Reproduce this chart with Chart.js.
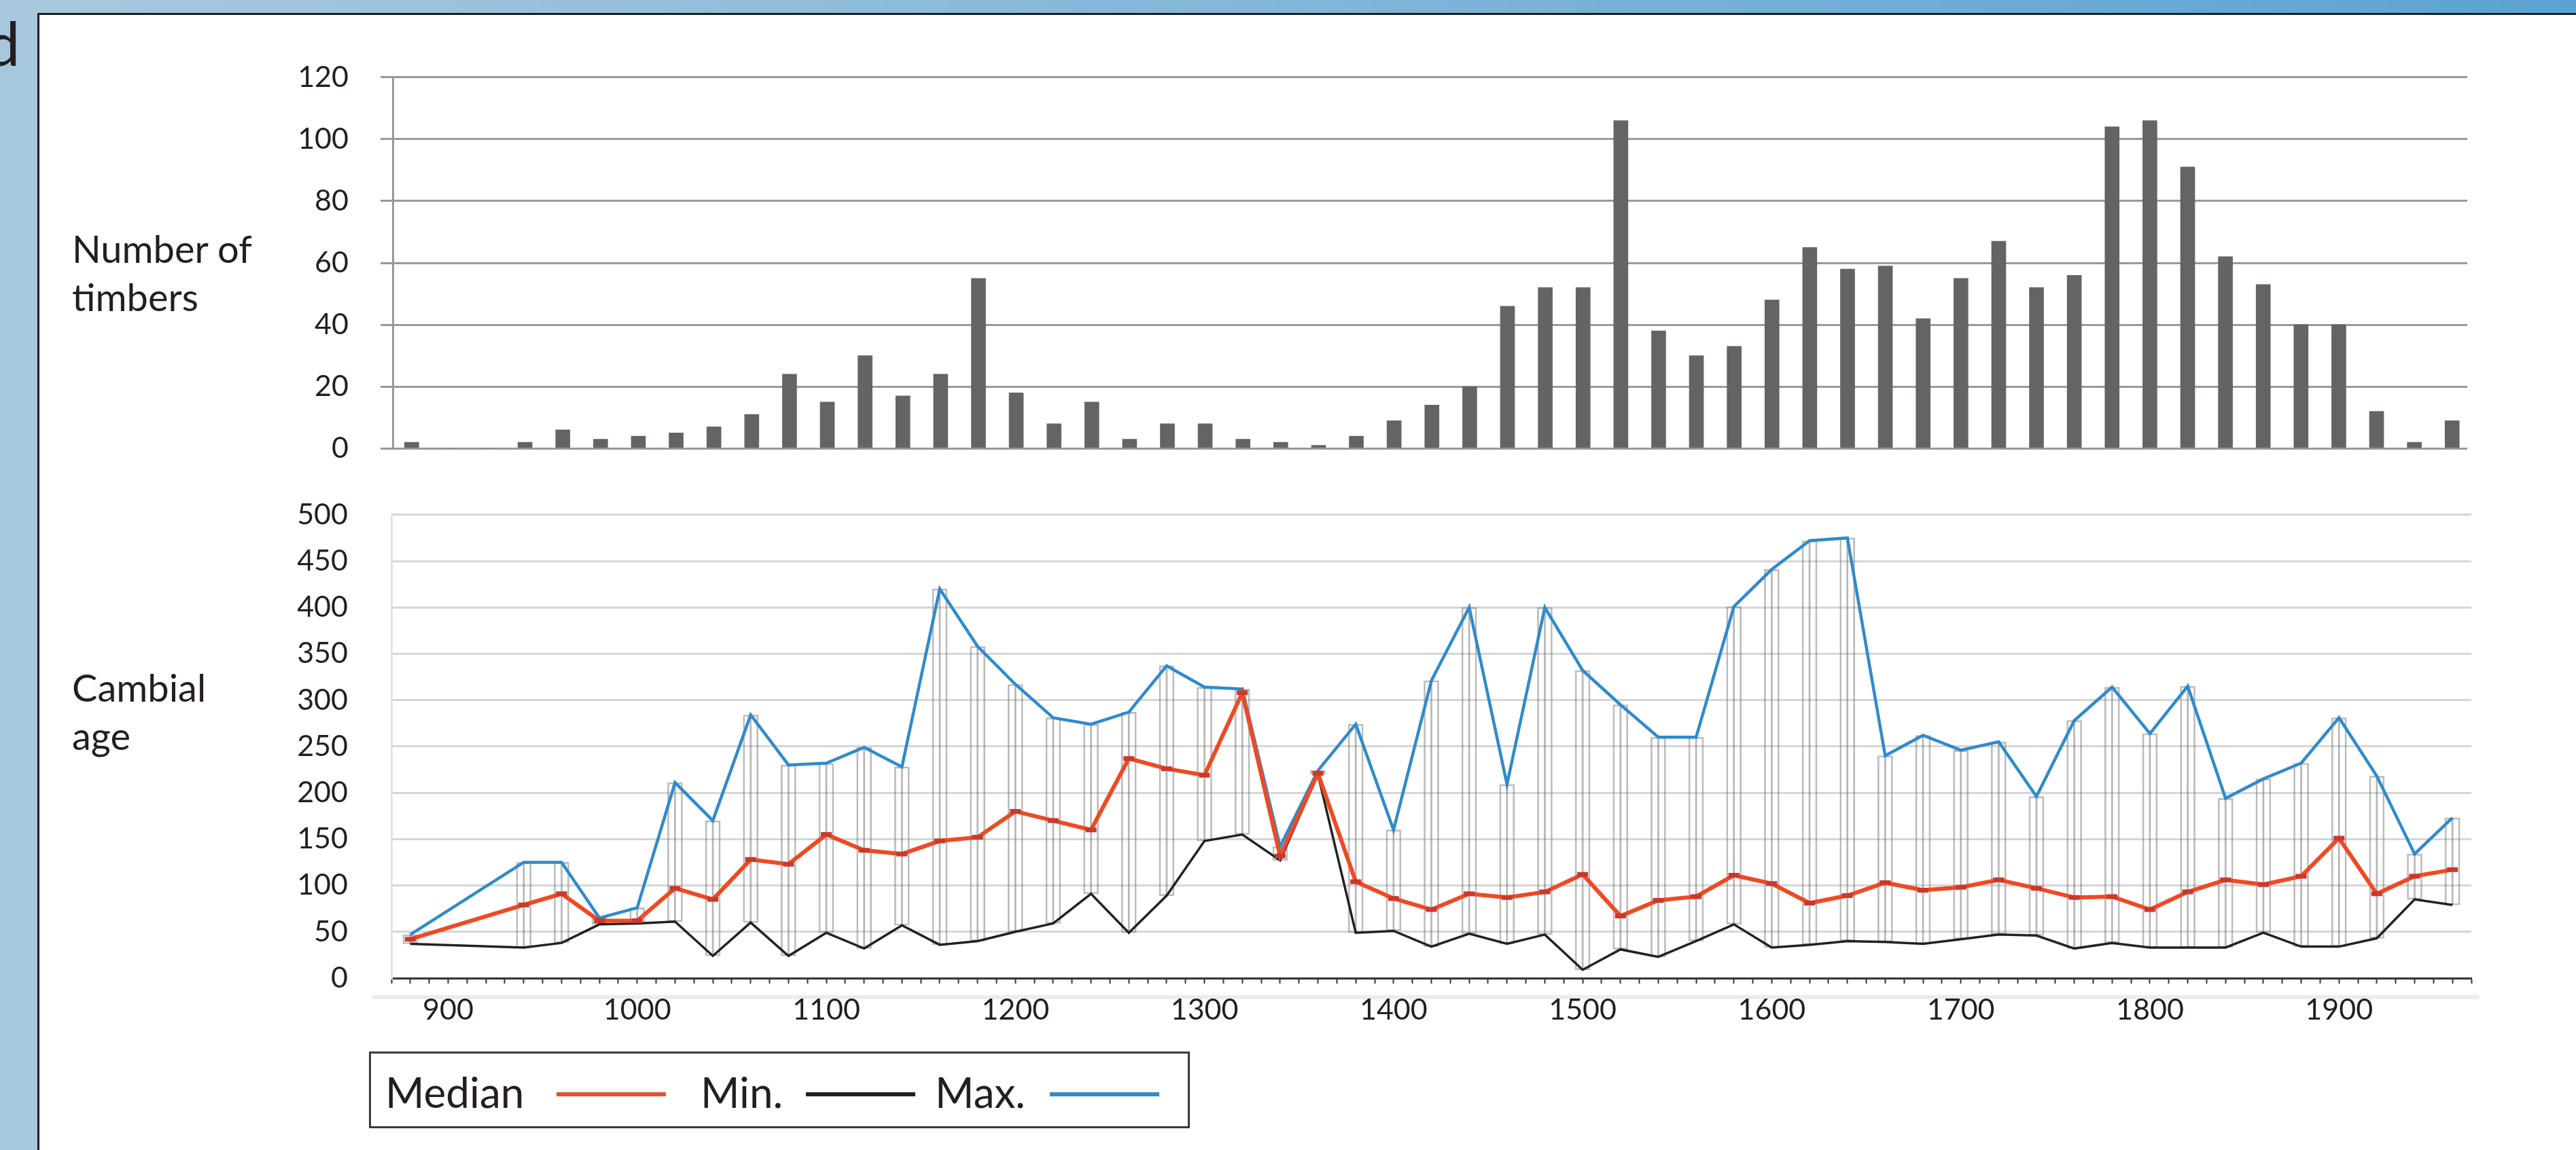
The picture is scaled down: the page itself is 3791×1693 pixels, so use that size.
<!DOCTYPE html>
<html>
<head>
<meta charset="utf-8">
<script src="https://cdn.jsdelivr.net/npm/chart.js@4.4.1/dist/chart.umd.min.js"></script>
<style>
  html, body { margin: 0; padding: 0; }
  body {
    width: 3791px; height: 1693px; position: relative; overflow: hidden;
    background: #a7c7dd; font-family: Lato, sans-serif; color: #231f20;
  }
  .header { position: absolute; left: 0; top: 0; width: 3791px; height: 20px;
    background: linear-gradient(to right, #a9c8de, #5ba3d3); }
  .panel { position: absolute; left: 55px; top: 19px; right: 0; bottom: 0; background: #fff;
    border-left: 3px solid #1d1d1d; border-top: 3px solid #1d1d1d; }
  .cut { position: absolute; left: -21px; top: 17px; font-size: 90px; line-height: 90px; }
  .side { position: absolute; left: 106px; font-size: 56px; line-height: 71px; }
  .band { position: absolute; left: 548px; top: 1465px; width: 3100px; height: 6px; background: #ececec; }
  canvas { position: absolute; left: 0; }
  #timbers { top: 41px; }
  #ages { top: 668px; }
  .legend-box { position: absolute; left: 543px; top: 1548px; width: 1208px; height: 113px;
    box-sizing: border-box; border: 3px solid #3a3a3a; }
  .lg { position: absolute; top: 1576px; font-size: 62px; line-height: 62px; }
  .ln { position: absolute; top: 1608px; height: 6px; width: 161px; }
</style>
</head>
<body>
<div class="header"></div>
<div class="cut">d</div>
<div class="panel"></div>
<div class="side" style="top:330px">Number of<br>timbers</div>
<div class="side" style="top:976px">Cambial<br>age</div>
<div class="band"></div>
<canvas id="timbers" width="3700" height="692"></canvas>
<canvas id="ages" width="3700" height="872"></canvas>
<div class="legend-box"></div>
<div class="lg" style="left:567px">Median</div>
<div class="ln" style="left:819px;background:#e0532c"></div>
<div class="lg" style="left:1031px">Min.</div>
<div class="ln" style="left:1186px;background:#222"></div>
<div class="lg" style="left:1376px">Max.</div>
<div class="ln" style="left:1545px;background:#2e8bcc"></div>
<script>
// number of timbers per 20-year class
const timberYears = [880, 900, 920, 940, 960, 980, 1000, 1020, 1040, 1060, 1080, 1100, 1120, 1140,
  1160, 1180, 1200, 1220, 1240, 1260, 1280, 1300, 1320, 1340, 1360, 1380, 1400, 1420, 1440, 1460,
  1480, 1500, 1520, 1540, 1560, 1580, 1600, 1620, 1640, 1660, 1680, 1700, 1720, 1740, 1760, 1780,
  1800, 1820, 1840, 1860, 1880, 1900, 1920, 1940, 1960];
const timberCounts = [2, 0, 0, 2, 6, 3, 4, 5, 7, 11, 24, 15, 30, 17,
  24, 55, 18, 8, 15, 3, 8, 8, 3, 2, 1, 4, 9, 14, 20, 46,
  52, 52, 106, 38, 30, 33, 48, 65, 58, 59, 42, 55, 67, 52, 56, 104,
  106, 91, 62, 53, 40, 40, 12, 2, 9];

// cambial age (median / min / max)
const ageYears = [880, 940, 960, 980, 1000, 1020, 1040, 1060, 1080, 1100, 1120, 1140, 1160, 1180,
  1200, 1220, 1240, 1260, 1280, 1300, 1320, 1340, 1360, 1380, 1400, 1420, 1440, 1460, 1480, 1500,
  1520, 1540, 1560, 1580, 1600, 1620, 1640, 1660, 1680, 1700, 1720, 1740, 1760, 1780, 1800, 1820,
  1840, 1860, 1880, 1900, 1920, 1940, 1960];
const ageMedian = [42, 79, 91, 62, 62, 97, 85, 128, 123, 155, 138, 134, 148, 152,
  180, 170, 160, 237, 226, 219, 308, 132, 221, 104, 86, 74, 91, 87, 93, 112,
  67, 84, 88, 111, 102, 81, 89, 103, 95, 98, 106, 97, 87, 88, 74, 93,
  106, 101, 110, 151, 91, 110, 117];
const ageMin = [37, 33, 38, 58, 59, 61, 24, 60, 24, 49, 32, 57, 36, 40,
  50, 59, 91, 49, 89, 148, 155, 127, 220, 49, 51, 34, 48, 37, 47, 9,
  31, 23, 40, 58, 33, 36, 40, 39, 37, 42, 47, 46, 32, 38, 33, 33,
  33, 49, 34, 34, 43, 85, 79];
const ageMax = [47, 125, 125, 65, 76, 211, 170, 284, 230, 232, 249, 228, 420, 358,
  317, 281, 274, 287, 337, 314, 312, 142, 224, 274, 160, 321, 400, 209, 400, 332,
  295, 260, 260, 401, 441, 472, 475, 240, 262, 246, 255, 196, 278, 314, 264, 315,
  194, 215, 232, 281, 218, 134, 173];

const xTickLabels = [900, 1000, 1100, 1200, 1300, 1400, 1500, 1600, 1700, 1800, 1900];

Chart.defaults.font.family = 'Lato';
Chart.defaults.color = '#231f20';

const tickFont = { size: 43 };
const noPlugins = { legend: { display: false }, tooltip: { enabled: false } };

new Chart(document.getElementById('timbers'), {
  type: 'bar',
  data: {
    datasets: [{
      data: timberYears.map((x, i) => ({ x, y: timberCounts[i] })),
      backgroundColor: '#636563',
      barThickness: 21
    }]
  },
  options: {
    responsive: false,
    animation: false,
    // y tick padding adds (label/2 + 47) above and below the plot
    layout: { padding: { top: 0, bottom: 0, left: 0, right: 69 } },
    plugins: noPlugins,
    scales: {
      x: { type: 'linear', min: 870, max: 1968, offset: false, display: false, grid: { offset: false } },
      y: {
        min: 0, max: 120,
        ticks: { stepSize: 20, padding: 47, font: tickFont },
        grid: { color: '#999999', lineWidth: 3, tickLength: 18, tickColor: '#999999' },
        border: { color: '#999999', width: 3 },
        afterFit: s => { s.width = 578; }
      }
    }
  }
});

const boxes = ageYears.map((x, i) => ({ x, y: [ageMin[i], ageMax[i]] }));
const pts = arr => ageYears.map((x, i) => ({ x, y: arr[i] }));

new Chart(document.getElementById('ages'), {
  type: 'line',
  data: {
    datasets: [
      { label: 'Median', data: pts(ageMedian), borderColor: '#ee4a24', borderWidth: 6,
        pointStyle: 'line', pointRadius: 8, pointBorderWidth: 7,
        pointBorderColor: '#c9392c', pointBackgroundColor: '#c9392c' },
      { label: 'Max.', data: pts(ageMax), borderColor: '#2f8bcb', borderWidth: 4.5, pointRadius: 0 },
      { label: 'Min.', data: pts(ageMin), borderColor: '#222222', borderWidth: 3.5, pointRadius: 0 },
      { type: 'bar', data: boxes, barThickness: 2, grouped: false,
        backgroundColor: 'rgba(110,110,110,0.5)' },
      { type: 'bar', data: boxes, barThickness: 22, grouped: false, borderSkipped: false,
        backgroundColor: 'rgba(255,255,255,0)', borderColor: 'rgba(120,120,120,0.5)', borderWidth: 2 }
    ]
  },
  options: {
    responsive: false,
    animation: false,
    layout: { padding: { top: 0, bottom: 0, left: 0, right: 63 } },
    plugins: noPlugins,
    scales: {
      x: {
        type: 'linear', min: 870, max: 1970, offset: false,
        ticks: {
          stepSize: 10, autoSkip: false, maxRotation: 0, padding: 13, font: tickFont,
          callback: v => xTickLabels.includes(v) ? String(v) : ''
        },
        grid: { drawOnChartArea: false, offset: false, tickLength: 8, tickColor: '#333', tickWidth: 2 },
        border: { color: '#333', width: 3 },
        afterFit: s => { s.height = 100; }
      },
      y: {
        min: 0, max: 500,
        ticks: { stepSize: 50, padding: 64, font: tickFont },
        grid: { color: '#d6d6d6', lineWidth: 3, drawTicks: false },
        border: { color: '#e2e2e2', width: 3 },
        afterFit: s => { s.width = 576; }
      }
    }
  }
});
</script>
</body>
</html>
